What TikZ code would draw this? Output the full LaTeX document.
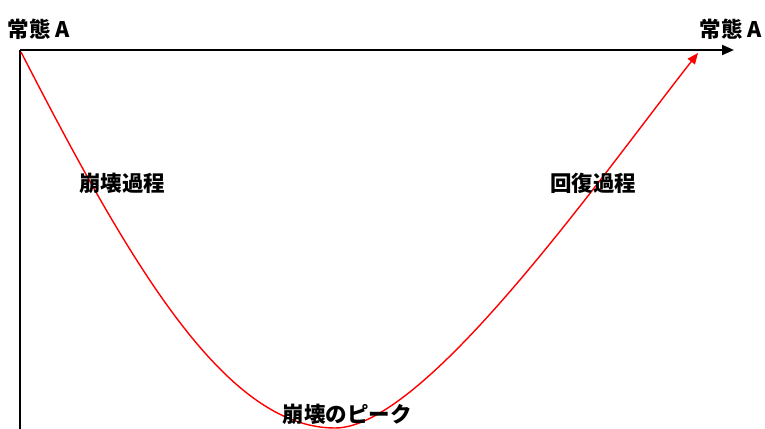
\documentclass[tikz,border=0pt]{standalone}
\usepackage{fontspec}
\newfontfamily\jpfont{Noto Sans CJK JP}
\usetikzlibrary{arrows.meta}
\begin{document}
\begin{tikzpicture}[x=1pt,y=-1pt,
  lbl/.style={font=\jpfont\bfseries\fontsize{21.5pt}{22pt}\selectfont, inner sep=0pt},
  axis/.style={line width=2pt, black},
  curve/.style={line width=1.4pt, red}]
\useasboundingbox (0,0) rectangle (765,428);
\coordinate (o) at (20,50);
\coordinate (xend) at (734,50);
\coordinate (ybot) at (20,430);
\coordinate (start) at (21,52);
\coordinate (low) at (335,428);
\coordinate (tip) at (698,53);
\draw[axis] (ybot) -- (o);
\draw[axis, -{Triangle[length=12pt,width=10pt]}] (o) -- (xend);
\draw[curve] (start) .. controls (130,264) and (225,428) .. (low);
\draw[curve, -{Triangle[length=11pt,width=9pt]}] (low) .. controls (425,428) and (599,179) .. (tip);
\node[lbl] (a1) at (39,29) {常態 A};
\node[lbl] (a2) at (731,29) {常態 A};
\node[lbl] (p1) at (122,183) {崩壊過程};
\node[lbl] (p2) at (593,183) {回復過程};
\node[lbl] (pk) at (347,414) {崩壊のピーク};
\end{tikzpicture}
\end{document}
